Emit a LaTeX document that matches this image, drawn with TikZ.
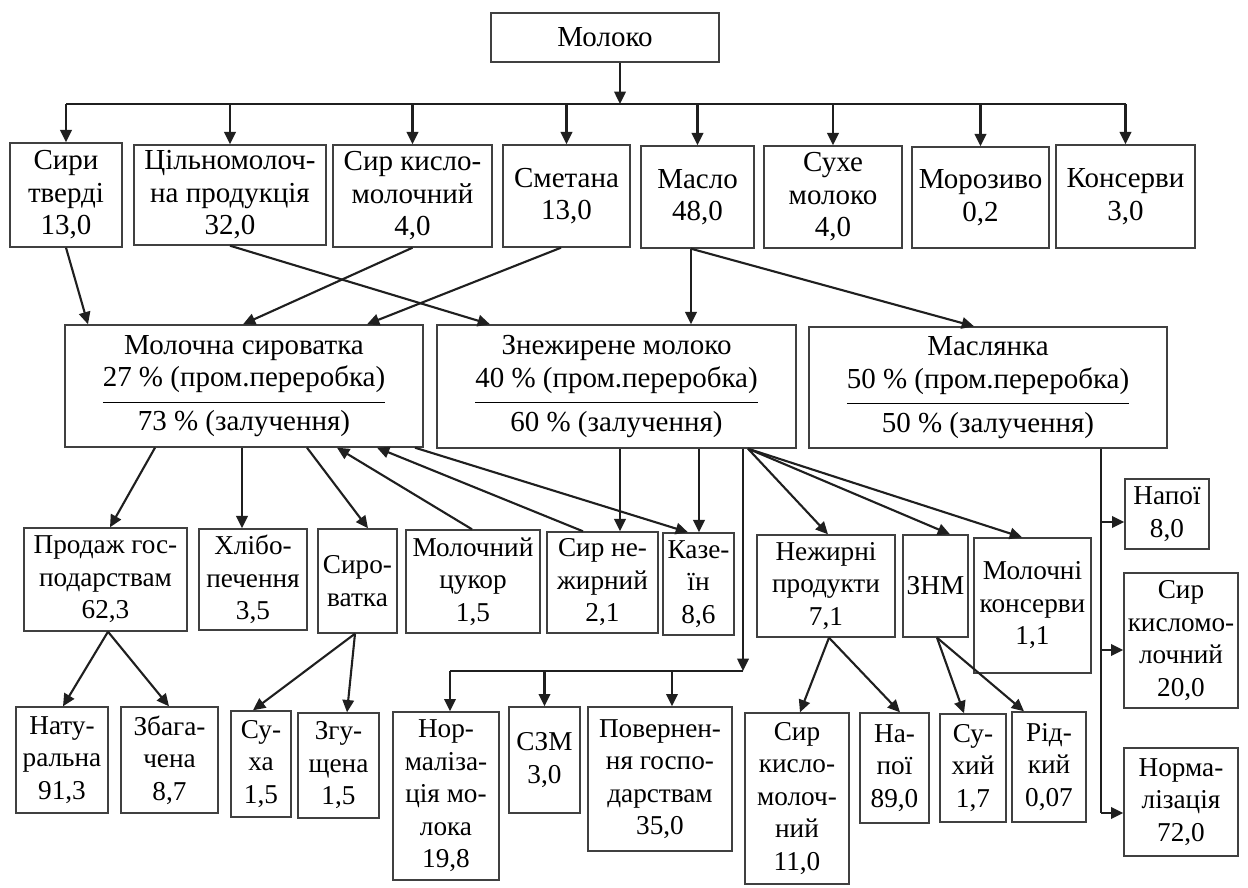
\documentclass[tikz,border=0pt]{standalone}
\usepackage{fontspec}
\setmainfont{Liberation Serif}
\usetikzlibrary{arrows.meta}
\setlength{\arrayrulewidth}{0.8pt}
\tikzset{
  box/.style={draw=black!75, line width=0.8pt, inner sep=0pt, align=center, font=\fontsize{15.5}{18.5}\selectfont},
  big/.style={font=\fontsize{16.5}{18.5}\selectfont},
  conn/.style={draw=black!88, line width=1.2pt},
  arr/.style={conn, -{Triangle[length=7pt,width=6.5pt]}},
}
\newcommand{\mybox}[7][]{\node[box, #1, minimum width={(#5-#3)*0.02cm}, minimum height={(#6-#4)*0.02cm}] (#2) at ({(#3+#5)/2},{(#4+#6)/2}) {#7};}
\newcommand{\frc}[3]{\begin{tabular}{@{}c@{}}#1\\#2\\[3pt]\hline\noalign{\vskip 3pt}#3\end{tabular}}
\begin{document}
\begin{tikzpicture}[x=0.02cm, y=-0.02cm]
\useasboundingbox (0,0) rectangle (1248,888);
% row 0
\mybox[big]{milk}{491}{13}{719}{62}{Молоко}
% row 1
\mybox[big]{sirt}{10}{143}{122}{247}{Сири\\тверді\\13,0}
\mybox[big]{cel}{134}{145}{326}{245}{Цільномолоч-\\на продукція\\32,0}
\mybox[big]{sirk}{333}{145}{492}{247}{Сир кисло-\\молочний\\4,0}
\mybox[big]{smet}{503}{145}{630}{247}{Сметана\\13,0}
\mybox[big]{maslo}{641}{146}{754}{248}{Масло\\48,0}
\mybox[big]{suhe}{764}{146}{902}{248}{Сухе\\молоко\\4,0}
\mybox[big]{moroz}{912}{147}{1049}{248}{Морозиво\\0,2}
\mybox[big]{kons}{1056}{145}{1195}{248}{Консерви\\3,0}
% row 2
\mybox[big]{whey}{65}{325}{423}{447}{\frc{Молочна сироватка}{27 \% (пром.переробка)}{73 \% (залучення)}}
\mybox[big]{skim}{437}{325}{796}{448}{\frc{Знежирене молоко}{40 \% (пром.переробка)}{60 \% (залучення)}}
\mybox[big]{butm}{809}{327}{1167}{448}{\frc{Маслянка}{50 \% (пром.переробка)}{50 \% (залучення)}}
% row 3
\mybox{prod}{24}{528}{187}{631}{Продаж гос-\\подарствам\\62,3}
\mybox{hlib}{199}{529}{307}{630}{Хлібо-\\печення\\3,5}
\mybox{syrov}{318}{529}{397}{633}{Сиро-\\ватка}
\mybox{cukor}{406}{530}{540}{633}{Молочний\\цукор\\1,5}
\mybox{sirn}{547}{532}{658}{633}{Сир не-\\жирний\\2,1}
\mybox{kaz}{663}{533}{734}{635}{Казе-\\їн\\8,6}
\mybox{nezh}{757}{535}{895}{637}{Нежирні\\продукти\\7,1}
\mybox{znm}{903}{535}{968}{637}{ЗНМ}
\mybox{mkons}{974}{538}{1091}{673}{Молочні\\консерви\\1,1}
\mybox{nap8}{1125}{479}{1209}{549}{Напої\\8,0}
\mybox{sir20}{1124}{573}{1238}{708}{Сир\\кисломо-\\лочний\\20,0}
\mybox{norm72}{1124}{748}{1238}{856}{Норма-\\лізація\\72,0}
% row 4
\mybox{nat}{16}{707}{108}{813}{Нату-\\ральна\\91,3}
\mybox{zbag}{121}{707}{218}{813}{Збага-\\чена\\8,7}
\mybox{suha}{231}{711}{291}{817}{Су-\\ха\\1,5}
\mybox{zgush}{298}{713}{379}{818}{Згу-\\щена\\1,5}
\mybox{normm}{393}{712}{499}{880}{Нор-\\маліза-\\ція мо-\\лока\\19,8}
\mybox{szm}{509}{707}{580}{813}{СЗМ\\3,0}
\mybox{povern}{588}{707}{732}{851}{Повернен-\\ня госпо-\\дарствам\\35,0}
\mybox{sirk11}{745}{713}{849}{884}{Сир\\кисло-\\молоч-\\ний\\11,0}
\mybox{nap89}{860}{713}{929}{823}{На-\\пої\\89,0}
\mybox{suhyi}{940}{714}{1006}{822}{Су-\\хий\\1,7}
\mybox{ridk}{1012}{712}{1086}{822}{Рід-\\кий\\0,07}
% top bus
\coordinate (bus) at (620,104);
\draw[arr] (milk.south -| bus) -- (bus);
\draw[conn] (sirt.north |- bus) -- (kons.north |- bus);
\foreach \n in {sirt,cel,sirk,smet,maslo,suhe,moroz,kons}
  \draw[arr] (\n.north |- bus) -- (\n.north);
% row 1 -> row 2
\draw[arr] (sirt.south) -- (whey.north -| 88,0);
\draw[arr] (cel.south) -- (skim.north -| 490,0);
\draw[arr] (sirk.south) -- (whey.north -| 243,0);
\draw[arr] (smet.south -| 561,0) -- (whey.north -| 367,0);
\draw[arr] (maslo.south -| 691,0) -- (skim.north -| 691,0);
\draw[arr] (maslo.south -| 691,0) -- (butm.north -| 974,0);
% row 2 -> row 3
\draw[arr] (whey.south -| 155,0) -- (prod.north -| 110,0);
\draw[arr] (whey.south -| 242,0) -- (hlib.north -| 242,0);
\draw[arr] (whey.south -| 307,0) -- (syrov.north -| 368,0);
\draw[arr] (cukor.north -| 472,0) -- (whey.south -| 337,0);
\draw[arr] (sirn.north -| 583,0) -- (whey.south -| 377,0);
\draw[arr] (whey.south -| 415,0) -- (kaz.north -| 688,0);
\draw[arr] (skim.south -| 620,0) -- (sirn.north -| 620,0);
\draw[arr] (skim.south -| 699,0) -- (kaz.north -| 699,0);
\draw[arr] (skim.south -| 748,0) -- (nezh.north -| 828,0);
\draw[arr] (skim.south -| 748,0) -- (znm.north -| 950,0);
\draw[arr] (skim.south -| 748,0) -- (mkons.north -| 1022,0);
% skim milk lower bus
\coordinate (bus2) at (743,671);
\coordinate (bus2l) at (450,671);
\draw[arr] (skim.south -| bus2) -- (bus2);
\draw[conn] (bus2) -- (bus2l);
\draw[arr] (bus2l) -- (normm.north -| bus2l);
\draw[arr] (bus2 -| szm.north) -- (szm.north);
\draw[arr] (bus2 -| 672,0) -- (povern.north -| 672,0);
% buttermilk bus
\coordinate (bus3) at (1101,813);
\draw[conn] (butm.south -| bus3) -- (bus3);
\draw[arr] (bus3 |- 0,522) -- (nap8.west |- 0,522);
\draw[arr] (bus3 |- 0,650) -- (sir20.west |- 0,650);
\draw[arr] (bus3) -- (norm72.west |- bus3);
% row 3 -> row 4
\draw[arr] (prod.south -| 108,0) -- (nat.north -| 63,0);
\draw[arr] (prod.south -| 108,0) -- (zbag.north -| 169,0);
\draw[arr] (syrov.south -| 355,0) -- (suha.north -| 253,0);
\draw[arr] (syrov.south -| 355,0) -- (zgush.north -| 347,0);
\draw[arr] (nezh.south -| 829,0) -- (sirk11.north -| 800,0);
\draw[arr] (nezh.south -| 829,0) -- (nap89.north -| 900,0);
\draw[arr] (znm.south -| 937,0) -- (suhyi.north -| 964,0);
\draw[arr] (znm.south -| 937,0) -- (ridk.north -| 1024,0);
\end{tikzpicture}
\end{document}
